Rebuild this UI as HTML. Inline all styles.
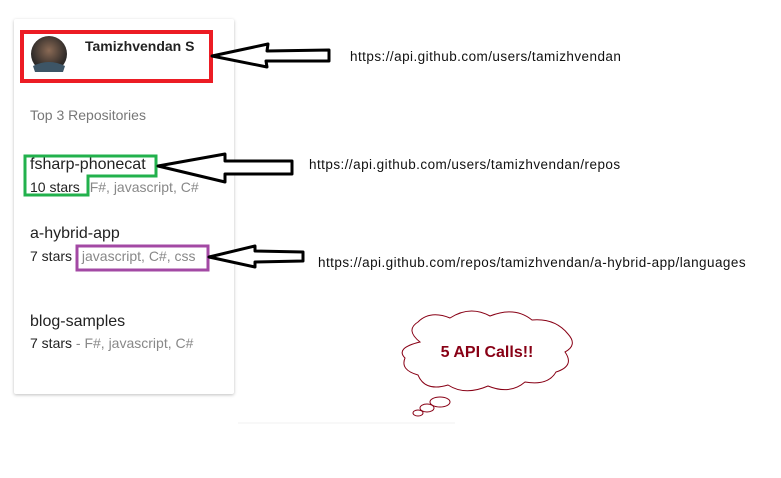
<!DOCTYPE html>
<html><head><style>
body{margin:0;width:781px;height:478px;background:#fff;overflow:hidden;position:relative;font-family:"Liberation Sans",sans-serif}
.card{position:absolute;left:14px;top:19px;width:220px;height:375px;background:#fff;border-radius:2px;box-shadow:0 1px 3px rgba(0,0,0,.25)}
.t{position:absolute;white-space:nowrap}
.u{font-size:13.5px;letter-spacing:0.45px;color:#111}
</style></head><body>
<div class="card"></div>
<svg width="781" height="478" style="position:absolute;left:0;top:0">
<defs><radialGradient id="g" cx="50%" cy="40%"><stop offset="0" stop-color="#8a6a55"/><stop offset="1" stop-color="#2e2a28"/></radialGradient></defs>
<circle cx="49" cy="54" r="18" fill="url(#g)"/>
<path d="M33 66 Q49 58 65 66 L63 72 L35 72Z" fill="#3d5566"/>
<rect x="22" y="32" width="189" height="49" fill="none" stroke="#ec1c24" stroke-width="4"/>
<path d="M25 156 H156 V176 H88 V195 H25 Z" fill="none" stroke="#22b14c" stroke-width="3"/>
<rect x="77" y="246" width="131" height="24" fill="none" stroke="#a349a4" stroke-width="3"/>
<g fill="#fff" stroke="#000" stroke-width="3" stroke-linejoin="round">
<path d="M212 56 L268 44 L267 51 L329 50 L329 61 L266 61 L267 67 Z"/>
<path d="M158 166 L225 154 L225 161 L292 161 L292 174 L225 174 L225 182 Z"/>
<path d="M209 257 L255 246 L255 251 L303 252 L303 261 L255 262 L255 267 Z"/>
</g>
<g fill="#fff" stroke="#880015" stroke-width="1">
<path d="M420 342 Q405 330 418 322 Q430 310 450 318 Q470 305 490 316 Q515 306 532 320 Q555 318 568 334 Q578 345 565 352 Q575 366 556 372 Q548 386 525 382 Q510 395 488 386 Q465 396 448 385 Q425 392 418 375 Q400 370 405 358 Q395 348 420 342Z"/>
<ellipse cx="440" cy="402" rx="10" ry="5"/>
<ellipse cx="427" cy="408" rx="7" ry="4"/>
<ellipse cx="418" cy="413" rx="5" ry="3"/>
</g>
<text x="487" y="357" text-anchor="middle" font-family="Liberation Sans" font-weight="bold" font-size="16" fill="#880015">5 API Calls!!</text>
<line x1="238" y1="423" x2="455" y2="423" stroke="#f0f0f0"/>
</svg>
<div class="t" style="left:85px;top:38px;font-size:14px;font-weight:bold;color:#222">Tamizhvendan S</div>
<div class="t" style="left:30px;top:107px;font-size:14px;color:#777">Top 3 Repositories</div>
<div class="t" style="left:30px;top:156px;font-size:16px;color:#222">fsharp-phonecat</div>
<div class="t" style="left:30px;top:179px;font-size:14px;color:#222">10 stars <span style="color:#888;margin-left:6px">F#, javascript, C#</span></div>
<div class="t" style="left:30px;top:225px;font-size:16px;color:#222">a-hybrid-app</div>
<div class="t" style="left:30px;top:248px;font-size:14px;color:#222">7 stars <span style="color:#888;margin-left:6px">javascript, C#, css</span></div>
<div class="t" style="left:30px;top:313px;font-size:16px;color:#222">blog-samples</div>
<div class="t" style="left:30px;top:335px;font-size:14px;color:#222">7 stars <span style="color:#888">- F#, javascript, C#</span></div>
<div class="t u" style="left:350px;top:49px">https://api.github.com/users/tamizhvendan</div>
<div class="t u" style="left:309px;top:157px">https://api.github.com/users/tamizhvendan/repos</div>
<div class="t u" style="left:318px;top:255px">https://api.github.com/repos/tamizhvendan/a-hybrid-app/languages</div>
</body></html>
